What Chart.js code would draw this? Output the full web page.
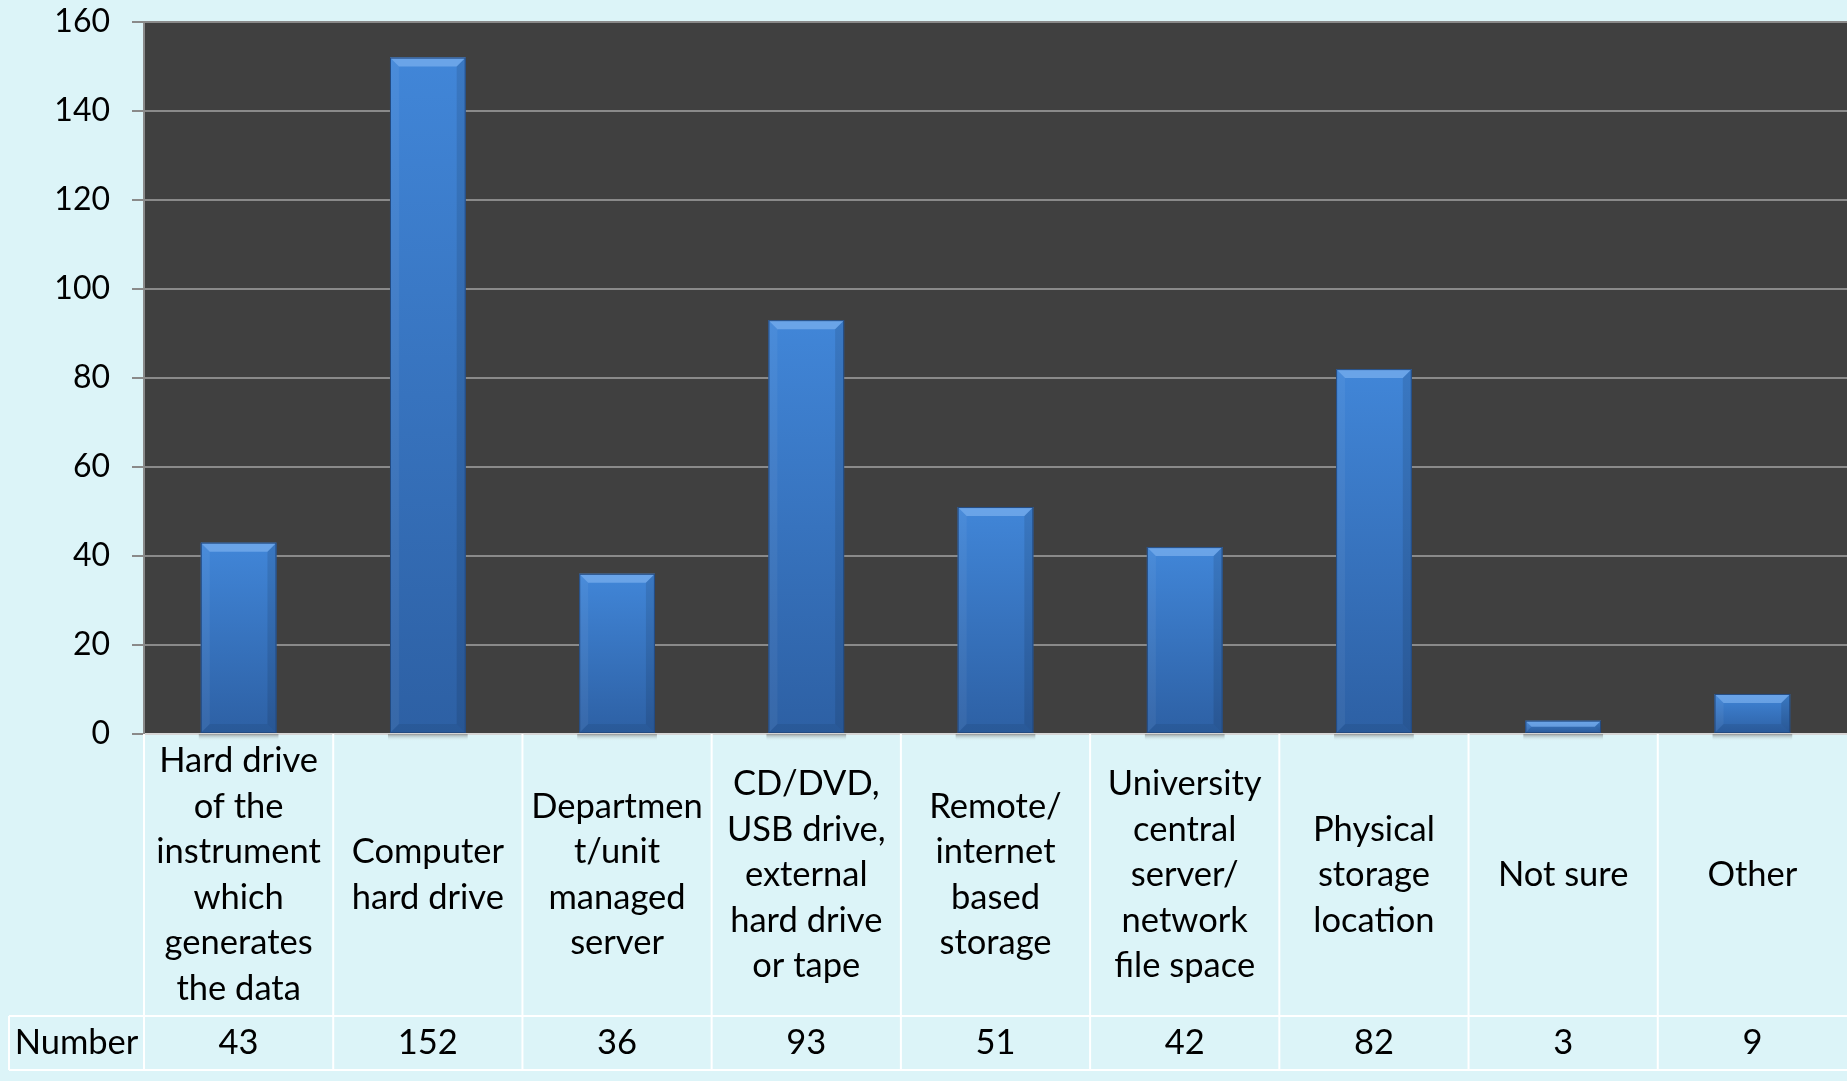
<!DOCTYPE html>
<html>
<head>
<meta charset="utf-8">
<script src="https://cdn.jsdelivr.net/npm/chart.js@4/dist/chart.umd.min.js"></script>
<style>
  html, body { margin: 0; padding: 0; background: #dcf4f8; }
</style>
</head>
<body>
<canvas id="myChart" width="1847" height="1081"></canvas>
<script>
// data
const categories = [
  ["Hard drive", "of the", "instrument", "which", "generates", "the data"],
  ["Computer", "hard drive"],
  ["Departmen", "t/unit", "managed", "server"],
  ["CD/DVD,", "USB drive,", "external", "hard drive", "or tape"],
  ["Remote/", "internet", "based", "storage"],
  ["University", "central", "server/", "network", "file space"],
  ["Physical", "storage", "location"],
  ["Not sure"],
  ["Other"]
];
const seriesName = "Number";
const numbers = [43, 152, 36, 93, 51, 42, 82, 3, 9];
const yMin = 0;
const yMax = 160;
const yStep = 20;

const FONT = "Lato";
const tableBottom = 1070;
const rowLine = 1016;
const tableLeft = 9;

let myChart = document.getElementById("myChart").getContext("2d");

// bar fill: per bar vertical gradient
const barFill = (ctx) => {
  const chart = ctx.chart;
  const y = chart.scales.y;
  if (!y || ctx.parsed == null) return "#3a78c8";
  const top = y.getPixelForValue(ctx.parsed.y);
  const base = y.getPixelForValue(0);
  if (!isFinite(top) || !isFinite(base) || top === base) return "#3a78c8";
  const g = chart.ctx.createLinearGradient(0, top, 0, base);
  g.addColorStop(0, "#4186d8");
  g.addColorStop(1, "#2d60a4");
  return g;
};

// bevel + shadow on each bar
const bevelPlugin = {
  id: "bevel",
  beforeDatasetsDraw(chart) {
    const c = chart.ctx;
    chart.getDatasetMeta(0).data.forEach((bar) => {
      const w = bar.width;
      const x0 = bar.x - w / 2;
      c.save();
      const g = c.createLinearGradient(0, bar.base, 0, bar.base + 8);
      g.addColorStop(0, "rgba(120,120,120,0.9)");
      g.addColorStop(1, "rgba(220,244,248,0)");
      c.fillStyle = g;
      c.fillRect(x0 - 2, bar.base + 1, w + 4, 7);
      c.restore();
    });
  },
  afterDatasetsDraw(chart) {
    const c = chart.ctx;
    chart.getDatasetMeta(0).data.forEach((bar) => {
      const w = bar.width;
      const x0 = bar.x - w / 2;
      const x1 = bar.x + w / 2;
      const top = bar.y;
      const base = bar.base;
      const h = base - top;
      const b = Math.min(9, h / 2);
      c.save();
      // top bevel
      c.beginPath();
      c.moveTo(x0, top);
      c.lineTo(x1, top);
      c.lineTo(x1 - b, top + b);
      c.lineTo(x0 + b, top + b);
      c.closePath();
      c.fillStyle = "rgba(140,190,245,0.55)";
      c.fill();
      // side bevels
      c.beginPath();
      c.moveTo(x0, top);
      c.lineTo(x0 + b, top + b);
      c.lineTo(x0 + b, base - b);
      c.lineTo(x0, base);
      c.closePath();
      c.fillStyle = "rgba(255,255,255,0.05)";
      c.fill();
      c.beginPath();
      c.moveTo(x1, top);
      c.lineTo(x1 - b, top + b);
      c.lineTo(x1 - b, base - b);
      c.lineTo(x1, base);
      c.closePath();
      c.fillStyle = "rgba(0,0,0,0.1)";
      c.fill();
      // bottom bevel
      c.beginPath();
      c.moveTo(x0, base);
      c.lineTo(x1, base);
      c.lineTo(x1 - b, base - b);
      c.lineTo(x0 + b, base - b);
      c.closePath();
      c.fillStyle = "rgba(0,0,0,0.07)";
      c.fill();
      c.strokeStyle = "#234a80";
      c.lineWidth = 1;
      c.strokeRect(x0 + 0.5, top + 0.5, w - 1, h - 1);
      c.restore();
    });
  },
};

// data table under the plot
const tablePlugin = {
  id: "dataTable",
  afterDraw(chart) {
    const c = chart.ctx;
    const xs = chart.scales.x;
    const area = chart.chartArea;
    const n = categories.length;
    const cw = (area.right - area.left) / n;
    c.save();
    c.strokeStyle = "#ffffff";
    c.lineWidth = 2;
    // vertical lines
    for (let i = 0; i < n; i++) {
      const xl = xs.getPixelForValue(i) - cw / 2;
      c.beginPath();
      c.moveTo(xl, area.bottom);
      c.lineTo(xl, tableBottom);
      c.stroke();
    }
    c.beginPath();
    c.moveTo(tableLeft, rowLine);
    c.lineTo(tableLeft, tableBottom);
    c.moveTo(tableLeft, rowLine);
    c.lineTo(chart.width, rowLine);
    c.moveTo(tableLeft, tableBottom);
    c.lineTo(chart.width, tableBottom);
    c.stroke();

    c.fillStyle = "#000000";
    c.font = "34.5px " + FONT;
    c.textAlign = "center";
    c.textBaseline = "middle";
    const lineH = 45.5;
    const midCat = (area.bottom + rowLine) / 2;
    const midNum = (rowLine + tableBottom) / 2;
    categories.forEach((lines, i) => {
      const cx = xs.getPixelForValue(i);
      const y0 = midCat - ((lines.length - 1) * lineH) / 2;
      lines.forEach((t, k) => c.fillText(t, cx, y0 + k * lineH));
      c.fillText(String(numbers[i]), cx, midNum);
    });
    c.fillText(seriesName, (tableLeft + area.left) / 2, midNum);
    c.restore();
  },
};

Chart.defaults.font.family = FONT;
Chart.defaults.font.size = 31;
Chart.defaults.color = "#000";

let barChart = new Chart(myChart, {
  type: "bar",
  data: {
    labels: categories,
    datasets: [
      {
        label: seriesName,
        data: numbers,
        backgroundColor: barFill,
        borderWidth: 0,
        barPercentage: 0.4,
        categoryPercentage: 1.0,
      },
    ],
  },
  options: {
    responsive: false,
    animation: false,
    layout: { padding: { top: 22, left: 0, right: 0, bottom: 0 } },
    plugins: {
      legend: { display: false },
      tooltip: { enabled: false },
    },
    scales: {
      x: {
        ticks: { display: false },
        grid: { display: false },
        border: { color: "#d6d6d6", width: 2 },
        afterFit: (scale) => {
          scale.height = 347;
        },
      },
      y: {
        min: yMin,
        max: yMax,
        ticks: { stepSize: yStep, padding: 22, color: "#000", font: { size: 32, family: FONT } },
        grid: { color: "#8a8a8a", lineWidth: 2, tickLength: 12, drawTicks: true },
        border: { color: "#8a8a8a", width: 2 },
        afterFit: (scale) => {
          scale.width = 144;
          scale.paddingTop = 0;
          scale.paddingBottom = 0;
        },
      },
    },
  },
  plugins: [
    {
      id: "plotBg",
      beforeDraw(chart) {
        const c = chart.ctx;
        const a = chart.chartArea;
        c.save();
        c.fillStyle = "#dcf4f8";
        c.fillRect(0, 0, chart.width, chart.height);
        c.fillStyle = "#404040";
        c.fillRect(a.left, a.top, a.right - a.left, a.bottom - a.top);
        c.restore();
      },
    },
    bevelPlugin,
    tablePlugin,
  ],
});
</script>
</body>
</html>
